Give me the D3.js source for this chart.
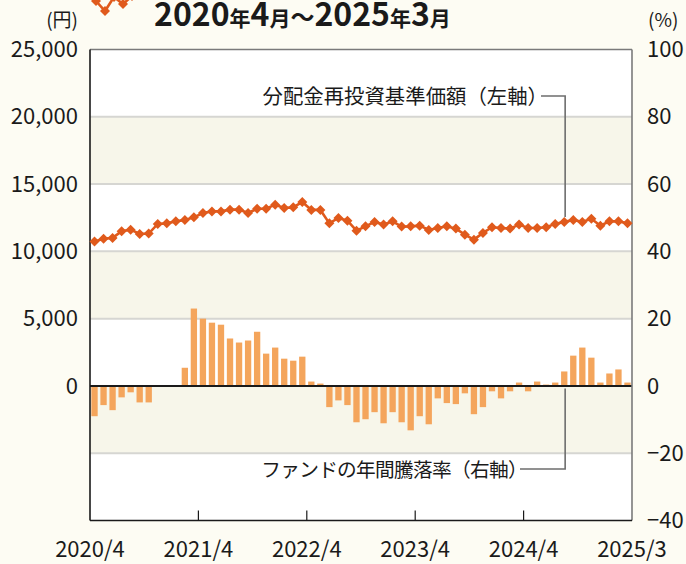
<!DOCTYPE html>
<html>
<head>
<meta charset="utf-8">
<script src="https://cdn.jsdelivr.net/npm/d3@7"></script>
<style>
  html, body { margin: 0; padding: 0; background: #fdfcf3; }
  svg { display: block; font-family: "Noto Sans CJK JP", "Noto Sans", sans-serif; }
</style>
</head>
<body>
<div id="chart"></div>
<script>
// 2020/4 - 2025/3, monthly
var months = [];
for (var y = 2020; y <= 2025; y++) {
    for (var m = 1; m <= 12; m++) {
        if ((y === 2020 && m < 4) || (y === 2025 && m > 3)) continue;
        months.push(y + "/" + m);
    }
}

// 分配金再投資基準価額 (円)
var nav = [10740, 10940, 11000, 11490, 11610, 11290, 11320, 12040, 12080, 12230,
           12330, 12530, 12850, 12970, 12970, 13100, 13100, 12850, 13170, 13170,
           13470, 13220, 13270, 13670, 13080, 13080, 12080, 12480, 12280, 11540,
           11860, 12190, 11990, 12230, 11840, 11860, 11910, 11590, 11740, 11860,
           11690, 11240, 10870, 11370, 11790, 11740, 11690, 11990, 11740, 11740,
           11790, 12040, 12190, 12330, 12190, 12430, 11910, 12230, 12230, 12080];

// ファンドの年間騰落率 (%)
var ret = [-9.0, -5.7, -7.2, -3.4, -1.9, -4.9, -4.9, 0, 0, 0,
           5.4, 23.0, 20.0, 18.8, 18.2, 14.1, 12.9, 13.5, 16.1, 9.6,
           11.4, 8.1, 7.5, 8.7, 1.3, 0.7, -6.3, -4.3, -5.7, -10.8,
           -9.9, -7.8, -11.1, -7.8, -10.8, -13.2, -9.0, -11.4, -3.7, -5.1,
           -5.4, -2.2, -8.4, -6.3, -1.6, -3.7, -1.6, 1.0, -1.6, 1.3,
           0.4, 1.0, 4.3, 9.0, 11.4, 8.4, 1.0, 3.7, 4.9, 1.0];

var leftTicks = [25000, 20000, 15000, 10000, 5000, 0];
var rightTicks = [100, 80, 60, 40, 20, 0, -20, -40];
var xTickIdx = [0, 12, 24, 36, 48, 60];
var xTickLabels = ["2020/4", "2021/4", "2022/4", "2023/4", "2024/4", "2025/3"];
var shadedBands = [[15000, 20000], [5000, 10000], [-5000, 0]];  // in left-axis units
var gridValues = [20000, 15000, 10000, 5000, -5000];

var legendSample = [1, 11, -3, 4, -4];   // cut-off legend icon at the top

var W = 686, H = 564;
var margin = {top: 49.5, right: 54, bottom: 43.5, left: 90};
var x0 = margin.left, x1 = W - margin.right, yTop = margin.top, yBot = H - margin.bottom;

var svg = d3.select("#chart").append("svg")
    .attr("width", W).attr("height", H);

svg.append("rect").attr("width", W).attr("height", H).attr("fill", "#fdfcf3");

var yL = d3.scaleLinear().domain([-10000, 25000]).range([yBot, yTop]);
var yR = d3.scaleLinear().domain([-40, 100]).range([yBot, yTop]);
var xBand = d3.scaleBand().domain(d3.range(months.length)).range([x0, x1]).paddingInner(0.3).paddingOuter(0.15);
var xLin = d3.scaleLinear().domain([0, months.length]).range([x0, x1]);

// plot background
svg.append("rect")
    .attr("x", x0).attr("y", yTop)
    .attr("width", x1 - x0).attr("height", yBot - yTop)
    .attr("fill", "#ffffff");

svg.append("g").selectAll("rect")
    .data(shadedBands)
    .enter().append("rect")
    .attr("x", x0).attr("width", x1 - x0)
    .attr("y", function(d) { return yL(d[1]); })
    .attr("height", function(d) { return yL(d[0]) - yL(d[1]); })
    .attr("fill", "#f7f6ea");

// grid lines
svg.append("g").selectAll("line")
    .data(gridValues)
    .enter().append("line")
    .attr("x1", x0).attr("x2", x1)
    .attr("y1", function(d) { return yL(d); })
    .attr("y2", function(d) { return yL(d); })
    .attr("stroke", "#d6d6d2").attr("stroke-width", 2);

// bars (right axis)
svg.append("g").selectAll("rect")
    .data(ret)
    .enter().append("rect")
    .attr("x", function(d, i) { return xBand(i); })
    .attr("width", xBand.bandwidth())
    .attr("y", function(d) { return yR(Math.max(0, d)); })
    .attr("height", function(d) { return Math.abs(yR(d) - yR(0)); })
    .attr("fill", "#f4a55c");

// zero line
svg.append("line")
    .attr("x1", x0).attr("x2", x1)
    .attr("y1", yR(0)).attr("y2", yR(0))
    .attr("stroke", "#1a1a1a").attr("stroke-width", 2);

// frame
svg.append("line").attr("x1", x0).attr("x2", x1).attr("y1", yTop).attr("y2", yTop)
    .attr("stroke", "#7a7a7a").attr("stroke-width", 1.6);
svg.append("line").attr("x1", x1).attr("x2", x1).attr("y1", yTop).attr("y2", yBot)
    .attr("stroke", "#7a7a7a").attr("stroke-width", 1.6);
svg.append("line").attr("x1", x0).attr("x2", x1).attr("y1", yBot).attr("y2", yBot)
    .attr("stroke", "#1a1a1a").attr("stroke-width", 1.6);
svg.append("line").attr("x1", x0).attr("x2", x0).attr("y1", yTop).attr("y2", yBot)
    .attr("stroke", "#1a1a1a").attr("stroke-width", 1.6);

// x ticks
svg.append("g").selectAll("line")
    .data(xTickIdx.slice(1, -1))
    .enter().append("line")
    .attr("x1", function(d) { return xLin(d); })
    .attr("x2", function(d) { return xLin(d); })
    .attr("y1", yBot).attr("y2", yBot - 10)
    .attr("stroke", "#1a1a1a").attr("stroke-width", 1.2);

// callout lines
var calloutX = xLin(52.6);
var lineColor = "#6e6e6e";
svg.append("path")
    .attr("d", "M541,96H" + calloutX + "V217")
    .attr("fill", "none").attr("stroke", lineColor).attr("stroke-width", 1.6);
svg.append("path")
    .attr("d", "M520,469H" + calloutX + "V" + (yR(0) + 2.5))
    .attr("fill", "none").attr("stroke", lineColor).attr("stroke-width", 1.6);

// NAV line
var orange = "#e05a1c";
var line = d3.line()
    .x(function(d, i) { return xBand(i) + xBand.bandwidth() / 2; })
    .y(function(d) { return yL(d); });

svg.append("path")
    .datum(nav)
    .attr("d", line)
    .attr("fill", "none").attr("stroke", orange).attr("stroke-width", 2.6);

var diamond = d3.symbol().type(d3.symbolSquare).size(50);
svg.append("g").selectAll("path")
    .data(nav)
    .enter().append("path")
    .attr("d", diamond)
    .attr("transform", function(d, i) {
        return "translate(" + (xBand(i) + xBand.bandwidth() / 2) + "," + yL(d) + ") rotate(45)";
    })
    .attr("fill", orange);

// legend icon, cut off at the top edge
var legX = d3.scaleLinear().domain([0, legendSample.length - 1]).range([96, 132]);
var legY = d3.scaleLinear().domain([0, 10]).range([0, 10]);
var legLine = d3.line().x(function(d, i) { return legX(i); }).y(function(d) { return legY(d); });
svg.append("path").datum(legendSample).attr("d", legLine)
    .attr("fill", "none").attr("stroke", orange).attr("stroke-width", 2.6);
svg.append("g").selectAll("path")
    .data(legendSample)
    .enter().append("path")
    .attr("d", diamond)
    .attr("transform", function(d, i) { return "translate(" + legX(i) + "," + legY(d) + ") rotate(45)"; })
    .attr("fill", orange);

// axis labels
var labelSize = 22;
svg.append("g").selectAll("text")
    .data(leftTicks)
    .enter().append("text")
    .attr("x", 78).attr("y", function(d) { return yL(d); })
    .attr("dy", "0.35em")
    .attr("text-anchor", "end")
    .attr("font-size", labelSize).attr("fill", "#1a1a1a")
    .text(function(d) { return d3.format(",")(d); });

svg.append("g").selectAll("text")
    .data(rightTicks)
    .enter().append("text")
    .attr("x", 647).attr("y", function(d) { return yR(d); })
    .attr("dy", "0.35em")
    .attr("font-size", labelSize).attr("fill", "#1a1a1a")
    .text(function(d) { return d < 0 ? "\u2212" + Math.abs(d) : d; });

svg.append("g").selectAll("text")
    .data(xTickIdx)
    .enter().append("text")
    .attr("x", function(d) { return xLin(d); })
    .attr("y", 557)
    .attr("text-anchor", "middle")
    .attr("font-size", labelSize).attr("fill", "#1a1a1a")
    .text(function(d, i) { return xTickLabels[i]; });

svg.append("text").attr("x", 78).attr("y", 27).attr("text-anchor", "end")
    .attr("font-size", 19).attr("fill", "#1a1a1a").text("(円)");
svg.append("text").attr("x", 648).attr("y", 27)
    .attr("font-size", 19).attr("fill", "#1a1a1a").text("(%)");

// callout labels (right-aligned against their leader lines;
// the full-width closing paren carries blank space on its right)
svg.append("text").attr("x", 548).attr("y", 104).attr("text-anchor", "end")
    .attr("font-size", 20.4).attr("fill", "#1a1a1a").text("分配金再投資基準価額（左軸）");
svg.append("text").attr("x", 527).attr("y", 477).attr("text-anchor", "end")
    .attr("font-size", 19.7).attr("letter-spacing", -0.7).attr("fill", "#1a1a1a")
    .text("ファンドの年間騰落率（右軸）");

// title
var title = svg.append("text").attr("x", 154).attr("y", 26)
    .attr("font-weight", "bold").attr("fill", "#1a1a1a");
[["2020", 32], ["年", 21], ["4", 32], ["月", 21], ["～", 24], ["2025", 32], ["年", 21], ["3", 32], ["月", 21]]
    .forEach(function(p) {
        title.append("tspan").attr("font-size", p[1]).text(p[0]);
    });
</script>
</body>
</html>
